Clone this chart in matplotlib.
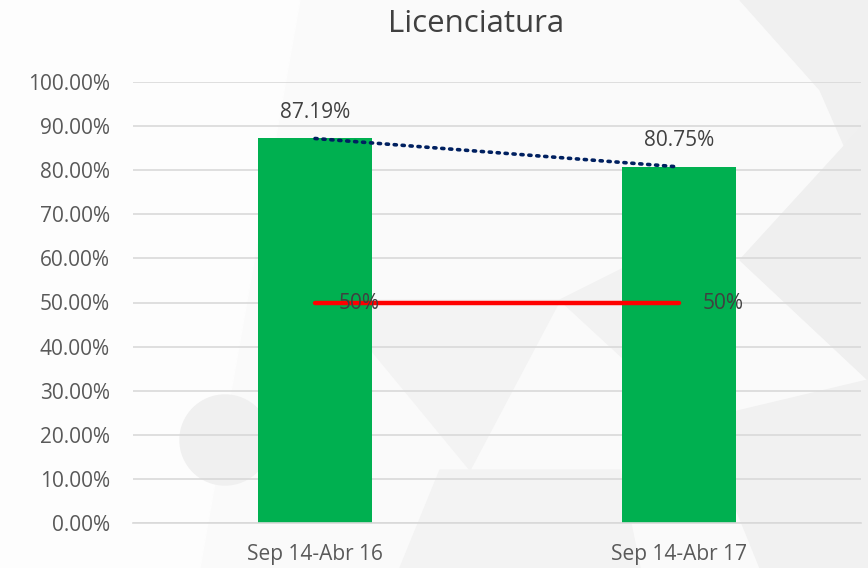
import numpy as np
import matplotlib.pyplot as plt
from matplotlib.patches import Polygon, Circle

# data
categorias = ['Sep 14-Abr 16', 'Sep 14-Abr 17']
valores = [0.8719, 0.8075]
meta = [0.50, 0.50]
etiquetas_valor = ['87.19%', '80.75%']
etiquetas_meta = ['50%', '50%']
yticks = np.arange(0, 1.01, 0.1)

plt.rcParams['font.family'] = ['Open Sans', 'DejaVu Sans']

fig = plt.figure(figsize=(8.68, 5.68), dpi=100)
fig.patch.set_facecolor('#fafafa')

# faint watermark shapes in the background
bg = fig.add_axes([0, 0, 1, 1], zorder=-10)
bg.set_xlim(0, 868)
bg.set_ylim(568, 0)
bg.axis('off')
bg.add_patch(Polygon([(0, 0), (300, 0), (200, 568), (0, 568)], closed=True, color='#fdfdfd'))
bg.add_patch(Circle((225, 440), 45, color='#f0f0f0'))
bg.add_patch(Polygon([(330, 300), (560, 300), (470, 470)], closed=True, color='#f3f3f3'))
bg.add_patch(Polygon([(560, 300), (700, 230), (690, 420)], closed=True, color='#f2f2f2'))
bg.add_patch(Polygon([(740, 0), (868, 0), (868, 200), (820, 90)], closed=True, color='#f0f0f0'))
bg.add_patch(Polygon([(740, 260), (868, 120), (868, 380)], closed=True, color='#efefef'))
bg.add_patch(Polygon([(700, 420), (868, 380), (868, 568), (760, 568)], closed=True, color='#f1f1f1'))
bg.add_patch(Polygon([(440, 470), (620, 470), (640, 568), (400, 568)], closed=True, color='#f3f3f3'))
bg.add_patch(Circle((1010, 260), 70, color='#f3f3f3'))

ax = fig.add_axes([133 / 868, 45 / 568, 728 / 868, 441 / 568])
ax.patch.set_alpha(0)
x = np.arange(len(categorias))

ax.bar(x, valores, width=0.313, color='#00b050', zorder=2)
ax.plot(x, valores, color='#002060', linestyle=(0, (0.6, 1.6)), linewidth=2.6,
        dash_capstyle='round', zorder=3)
ax.plot(x, meta, color='#ff0000', linewidth=3.2, solid_capstyle='round', zorder=3)

for xi, v, t in zip(x, valores, etiquetas_valor):
    ax.annotate(t, (xi, v), xytext=(0, 19), textcoords='offset points',
                ha='center', va='center', fontsize=15, color='#404040')
for xi, v, t in zip(x, meta, etiquetas_meta):
    ax.annotate(t, (xi, v), xytext=(17, -1), textcoords='offset points',
                ha='left', va='center', fontsize=15, color='#404040')

ax.set_xlim(-0.5, 1.5)
ax.set_ylim(0, 1.0)
ax.set_yticks(yticks)
ax.set_yticklabels(['%.2f%%' % (t * 100) for t in yticks])
ax.set_xticks(x)
ax.set_xticklabels(categorias)
ax.tick_params(axis='both', length=0, labelsize=15, colors='#595959')
ax.tick_params(axis='y', pad=16.5)
ax.tick_params(axis='x', pad=15)
ax.grid(axis='y', color='#d9d9d9', linewidth=1.2, zorder=0)
ax.set_axisbelow(True)
for s in ['top', 'right', 'left']:
    ax.spines[s].set_visible(False)
ax.spines['bottom'].set_color('#d9d9d9')
ax.spines['bottom'].set_linewidth(1.2)

fig.text(476 / 868, 1 - 24 / 568, 'Licenciatura', ha='center', va='center',
         fontsize=22.5, color='#404040')

fig.savefig('out.png', dpi=100, facecolor=fig.get_facecolor())
